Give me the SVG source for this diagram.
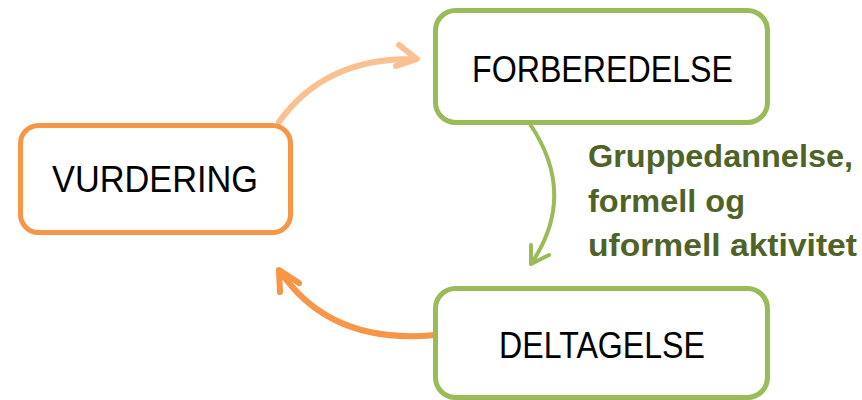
<svg xmlns="http://www.w3.org/2000/svg" width="862" height="400" viewBox="0 0 862 400">
<style>
.box{fill:#fff;stroke-width:5}
.g{stroke:#9BBB59}
.o{stroke:#F79646}
.lbl{font-family:"Liberation Sans",Arial,sans-serif;font-size:37px;fill:#000}
.note{font-family:"Liberation Sans",Arial,sans-serif;font-size:31px;font-weight:bold;fill:#4F6228}
.c{fill:none;stroke-linecap:round;stroke-linejoin:round}
</style>
<rect width="862" height="400" fill="#fff"/>
<g id="connectors">
<g id="e1"><path class="c" d="M279,122 Q325,57 416,59 M399,45 L417,59 L396,66" stroke="#FAC090" stroke-width="6"/></g>
<g id="e2"><path class="c" d="M530,124 Q578,195 531,264 M531,245 L531,264 L549,255" stroke="#9BBB59" stroke-width="4"/></g>
<g id="e3"><path class="c" d="M435,335 Q330,345 280,271 M280,292 L279,270 L299,283" stroke="#F79646" stroke-width="6"/></g>
</g>
<g id="vurdering">
<rect class="box o" x="20.5" y="125.5" width="270" height="107" rx="18"/>
<text class="lbl" x="52" y="192" textLength="206" lengthAdjust="spacingAndGlyphs">VURDERING</text>
</g>
<g id="forberedelse">
<rect class="box g" x="435.5" y="10.5" width="332" height="112" rx="20"/>
<text class="lbl" x="472" y="82" textLength="261" lengthAdjust="spacingAndGlyphs">FORBEREDELSE</text>
</g>
<g id="deltagelse">
<rect class="box g" x="435.5" y="288.5" width="332" height="109" rx="20"/>
<text class="lbl" x="499" y="358" textLength="206" lengthAdjust="spacingAndGlyphs">DELTAGELSE</text>
</g>
<g id="note">
<text class="note" x="588" y="167" textLength="265" lengthAdjust="spacingAndGlyphs">Gruppedannelse,</text>
<text class="note" x="588" y="212" textLength="157" lengthAdjust="spacingAndGlyphs">formell og</text>
<text class="note" x="588" y="256" textLength="269" lengthAdjust="spacingAndGlyphs">uformell aktivitet</text>
</g>
</svg>
